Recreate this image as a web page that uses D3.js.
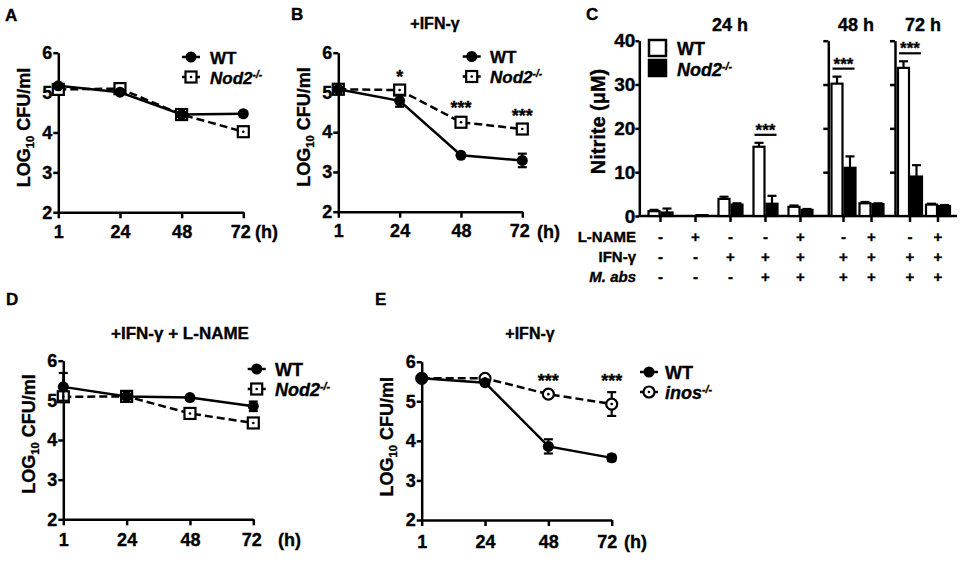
<!DOCTYPE html>
<html><head><meta charset="utf-8">
<script src="https://cdn.jsdelivr.net/npm/d3@7"></script>
<style>
body{margin:0;background:#fff}
svg text{font-family:"Liberation Sans",Arial,sans-serif;font-weight:bold;fill:#000;stroke:#000;stroke-width:0.35px}
</style>
</head><body>
<svg id="c" width="965" height="564"></svg>
<script>
// ---------- DATA ----------
const hours = ["1", "24", "48", "72"];
const cfuTicks = [2, 3, 4, 5, 6];

const A_WT = [5.17, 5.01, 4.45, 4.47];
const A_WT_err = [0.04, 0.03, 0.05, 0.03];
const A_Nod2 = [5.08, 5.10, 4.45, 4.02];
const A_Nod2_err = [0.04, 0.04, 0.06, 0.05];

const B_WT = [5.08, 4.79, 3.42, 3.29];
const B_WT_err = [0.05, 0.15, 0.04, 0.17];
const B_Nod2 = [5.08, 5.06, 4.25, 4.08];
const B_Nod2_err = [0.05, 0.05, 0.08, 0.06];
const B_stars = ["", "*", "***", "***"];

const D_WT = [5.34, 5.10, 5.07, 4.85];
const D_WT_err = [0.35, 0.05, 0.04, 0.12];
const D_Nod2 = [5.09, 5.10, 4.67, 4.43];
const D_Nod2_err = [0.05, 0.05, 0.07, 0.06];

const E_WT = [5.58, 5.47, 3.86, 3.57];
const E_WT_err = [0.05, 0.05, 0.18, 0.08];
const E_inos = [5.58, 5.58, 5.18, 4.93];
const E_inos_err = [0.03, 0.03, 0.05, 0.30];
const E_stars = ["", "", "***", "***"];

// Panel C (nitrite)
const C_segments = ["24 h", "48 h", "72 h"];
const C_groupSegment = [0, 0, 0, 0, 0, 1, 1, 2, 2];
const C_LNAME = ["-", "+", "-", "-", "+", "-", "+", "-", "+"];
const C_IFN = ["-", "-", "+", "+", "+", "+", "+", "+", "+"];
const C_Mabs = ["-", "-", "-", "+", "+", "+", "+", "+", "+"];
const C_WT = [1.1, 0, 3.9, 15.8, 2.1, 30.2, 2.9, 33.8, 2.6];
const C_WT_err = [0.3, 0, 0.5, 0.9, 0.3, 1.6, 0.3, 1.5, 0.2];
const C_Nod2 = [0.8, 0.2, 2.6, 2.8, 1.4, 11.0, 2.7, 9.0, 2.3];
const C_Nod2_err = [0.9, 0, 0.3, 1.8, 0.2, 2.6, 0.2, 2.6, 0.2];
const C_sig = ["", "", "", "***", "", "***", "", "***", ""];
const C_ticks = [0, 10, 20, 30, 40];

// ---------- DRAWING ----------
const svg = d3.select("#c");
svg.append("rect").attr("width", 965).attr("height", 564).attr("fill", "#fff");

function styleAxis(a, fs) {
  a.selectAll("path.domain").attr("stroke", "#000").attr("stroke-width", 2.5);
  a.selectAll(".tick line").attr("stroke", "#000").attr("stroke-width", 2.5);
  a.selectAll(".tick text").attr("font-size", fs).attr("fill", "#000");
}

function marker(g, type, cx, cy) {
  if (type === "circle") {
    g.append("circle").attr("cx", cx).attr("cy", cy).attr("r", 5.5).attr("fill", "#000");
  } else if (type === "square") {
    g.append("rect").attr("x", cx - 5.5).attr("y", cy - 5.5).attr("width", 11).attr("height", 11)
      .attr("fill", "#fff").attr("stroke", "#000").attr("stroke-width", 2.2);
    g.append("circle").attr("cx", cx).attr("cy", cy).attr("r", 1.3).attr("fill", "#000");
  } else {
    g.append("circle").attr("cx", cx).attr("cy", cy).attr("r", 5.5)
      .attr("fill", "#fff").attr("stroke", "#000").attr("stroke-width", 2.2);
    g.append("circle").attr("cx", cx).attr("cy", cy).attr("r", 1.3).attr("fill", "#000");
  }
}

function labelWithSup(g, x, y, base, italic, fs) {
  const t = g.append("text").attr("x", x).attr("y", y).attr("font-size", fs);
  t.append("tspan").text(base).attr("font-style", italic ? "italic" : "normal");
  if (italic) t.append("tspan").text("-/-").attr("font-size", fs * 0.6).attr("dy", -6).attr("font-style", "italic");
  return t;
}

function legendItem(g, mx, my, type, dashed, label, italic, tx, fs) {
  g.append("line").attr("x1", mx - 9).attr("x2", mx + 9).attr("y1", my).attr("y2", my)
    .attr("stroke", "#000").attr("stroke-width", 2.5).attr("stroke-dasharray", dashed ? "4,3" : null);
  marker(g, type, mx, my);
  labelWithSup(g, tx, my + 6.5, label, italic, fs);
}

function yTitle(g, cx, cy, fs) {
  const t = g.append("text").attr("transform", `translate(${cx + 6.5},${cy}) rotate(-90)`)
    .attr("text-anchor", "middle").attr("font-size", fs);
  t.append("tspan").text("LOG");
  t.append("tspan").text("10").attr("font-size", fs * 0.62).attr("dy", 4);
  t.append("tspan").text(" CFU/ml").attr("dy", -4);
}

function linePanel(o) {
  const g = svg.append("g");
  const x = d3.scalePoint().domain(hours).range([o.x0, o.x1]);
  const y = d3.scaleLinear().domain([2, 6]).range([o.yb, o.yt]);
  const ya = g.append("g").attr("transform", `translate(${o.x0},0)`)
    .call(d3.axisLeft(y).tickValues(cfuTicks).tickFormat(d3.format("d")).tickSize(5).tickSizeOuter(0).tickPadding(1));
  styleAxis(ya, 18);
  const xa = g.append("g").attr("transform", `translate(0,${o.yb})`)
    .call(d3.axisBottom(x).tickSize(6).tickSizeOuter(0).tickPadding(o.xpad));
  styleAxis(xa, 18);
  xa.selectAll(".tick text").filter(d => d === hours[hours.length - 1]).attr("dx", o.lastDx);
  g.append("text").attr("x", o.hx).attr("y", o.yb + o.xpad + 6 + 13).attr("font-size", 18).text("(h)");
  yTitle(g, o.ylx, o.yly, 18);

  const line = d3.line().x((d, i) => x(hours[i])).y(d => y(d));
  o.series.forEach(s => {
    g.append("path").datum(s.vals).attr("d", line).attr("fill", "none")
      .attr("stroke", "#000").attr("stroke-width", 2.5).attr("stroke-dasharray", s.dashed ? "8,4" : null);
  });
  o.series.forEach(s => {
    s.vals.forEach((v, i) => {
      const cx = x(hours[i]), e = s.err[i];
      g.append("line").attr("x1", cx).attr("x2", cx).attr("y1", y(v - e)).attr("y2", y(v + e))
        .attr("stroke", "#000").attr("stroke-width", 2.2);
      [v - e, v + e].forEach(w => g.append("line").attr("x1", cx - 4.5).attr("x2", cx + 4.5)
        .attr("y1", y(w)).attr("y2", y(w)).attr("stroke", "#000").attr("stroke-width", 2.2));
    });
    s.vals.forEach((v, i) => marker(g, s.type, x(hours[i]), y(v)));
  });
  if (o.stars) {
    o.stars.forEach((st, i) => {
      if (!st) return;
      const top = d3.max(o.series, s => s.vals[i] + s.err[i]);
      g.append("text").attr("x", x(hours[i])).attr("y", y(top) - 5).attr("text-anchor", "middle")
        .attr("font-size", 18).text(st);
    });
  }
  o.legend.forEach((l, k) => legendItem(g, o.lmx, o.lmy[k], l.type, l.dashed, l.label, l.italic, o.ltx, o.lfs));
  return g;
}

// Panel letters
[["A", 5, 21], ["B", 291, 20], ["C", 586, 20], ["D", 6, 305], ["E", 375, 305]].forEach(d =>
  svg.append("text").attr("x", d[1]).attr("y", d[2]).attr("font-size", 17).text(d[0]));

const nodLegend = [
  { type: "circle", dashed: false, label: "WT", italic: false },
  { type: "square", dashed: true, label: "Nod2", italic: true }
];

// A
linePanel({
  x0: 58.3, x1: 243.3, yt: 52.7, yb: 212.3, xpad: 7, hx: 255, lastDx: -3, ylx: 23, yly: 127.5,
  series: [
    { vals: A_Nod2, err: A_Nod2_err, type: "square", dashed: true },
    { vals: A_WT, err: A_WT_err, type: "circle", dashed: false }
  ],
  legend: nodLegend, lmx: 191, lmy: [57, 77], ltx: 210, lfs: 17
});

// B
linePanel({
  x0: 338.3, x1: 522.3, yt: 52.7, yb: 211.7, xpad: 7, hx: 537, lastDx: -3, ylx: 303, yly: 127,
  series: [
    { vals: B_Nod2, err: B_Nod2_err, type: "square", dashed: true },
    { vals: B_WT, err: B_WT_err, type: "circle", dashed: false }
  ],
  stars: B_stars,
  legend: nodLegend, lmx: 471.7, lmy: [56.5, 76.5], ltx: 490, lfs: 17
});
svg.append("text").attr("x", 435).attr("y", 29).attr("text-anchor", "middle").attr("font-size", 16).text("+IFN-γ");

// D
linePanel({
  x0: 63.3, x1: 253.3, yt: 360.7, yb: 519.3, xpad: 8, hx: 278, lastDx: -2, ylx: 28, yly: 434,
  series: [
    { vals: D_Nod2, err: D_Nod2_err, type: "square", dashed: true },
    { vals: D_WT, err: D_WT_err, type: "circle", dashed: false }
  ],
  legend: nodLegend, lmx: 256.7, lmy: [369, 389], ltx: 275, lfs: 18
});
svg.append("text").attr("x", 180).attr("y", 339).attr("text-anchor", "middle").attr("font-size", 17).text("+IFN-γ + L-NAME");

// E
linePanel({
  x0: 421.7, x1: 611.7, yt: 361.7, yb: 520, xpad: 9, hx: 624, lastDx: -5, ylx: 386, yly: 436.7,
  series: [
    { vals: E_inos, err: E_inos_err, type: "ocircle", dashed: true },
    { vals: E_WT, err: E_WT_err, type: "circle", dashed: false }
  ],
  stars: E_stars,
  legend: [
    { type: "circle", dashed: false, label: "WT", italic: false },
    { type: "ocircle", dashed: true, label: "inos", italic: true }
  ],
  lmx: 649, lmy: [372, 392], ltx: 665, lfs: 18
});
svg.append("text").attr("x", 530).attr("y", 339).attr("text-anchor", "middle").attr("font-size", 16).text("+IFN-γ");

// ---------- Panel C ----------
(function () {
  const g = svg.append("g");
  const yC = d3.scaleLinear().domain([0, 40]).range([216, 40.7]);
  const segRanges = [[643, 818], [829.5, 885.5], [896, 952]];
  const segAxisX = [639.3, 828.3, 895];
  const segScales = segRanges.map((r, s) => {
    const ids = d3.range(C_groupSegment.length).filter(i => C_groupSegment[i] === s);
    return d3.scalePoint().domain(ids).range(r).padding(0.5);
  });
  const gx = i => segScales[C_groupSegment[i]](i);

  const ya = g.append("g").attr("transform", `translate(${segAxisX[0]},0)`)
    .call(d3.axisLeft(yC).tickValues(C_ticks).tickSize(4).tickSizeOuter(0).tickPadding(0));
  styleAxis(ya, 19);
  [1, 2].forEach(s => {
    const a = g.append("g").attr("transform", `translate(${segAxisX[s]},0)`)
      .call(d3.axisLeft(yC).tickValues(C_ticks.slice(1)).tickFormat("").tickSize(5).tickSizeOuter(0));
    styleAxis(a, 19);
  });
  g.append("line").attr("x1", segAxisX[0]).attr("x2", 957).attr("y1", yC(0)).attr("y2", yC(0))
    .attr("stroke", "#000").attr("stroke-width", 2.5);
  C_WT.forEach((_, i) => g.append("line").attr("x1", gx(i)).attr("x2", gx(i))
    .attr("y1", yC(0)).attr("y2", yC(0) + 6).attr("stroke", "#000").attr("stroke-width", 2.5));

  const bw = 11;
  function bar(i, v, e, fill, dx) {
    const x = gx(i) + dx;
    if (v > 0) {
      if (e > 0) {
        g.append("line").attr("x1", x + bw / 2).attr("x2", x + bw / 2).attr("y1", yC(v)).attr("y2", yC(v + e))
          .attr("stroke", "#000").attr("stroke-width", 2.2);
        g.append("line").attr("x1", x + bw / 2 - 4.5).attr("x2", x + bw / 2 + 4.5).attr("y1", yC(v + e)).attr("y2", yC(v + e))
          .attr("stroke", "#000").attr("stroke-width", 2.2);
      }
      g.append("rect").attr("x", x).attr("y", yC(v)).attr("width", bw).attr("height", yC(0) - yC(v))
        .attr("fill", fill).attr("stroke", "#000").attr("stroke-width", 2.2);
    }
  }
  C_WT.forEach((v, i) => bar(i, v, C_WT_err[i], "#fff", -12));
  C_Nod2.forEach((v, i) => bar(i, v, C_Nod2_err[i], "#000", 1));

  C_sig.forEach((s, i) => {
    if (!s) return;
    const top = Math.max(C_WT[i] + C_WT_err[i], C_Nod2[i] + C_Nod2_err[i]);
    const ly = yC(top) - 8;
    g.append("line").attr("x1", gx(i) - 11).attr("x2", gx(i) + 11).attr("y1", ly).attr("y2", ly)
      .attr("stroke", "#000").attr("stroke-width", 2.2);
    g.append("text").attr("x", gx(i)).attr("y", ly + 1).attr("text-anchor", "middle").attr("font-size", 17).text(s);
  });

  const titleX = [730, 856, 923];
  C_segments.forEach((t, s) => g.append("text").attr("x", titleX[s]).attr("y", 31)
    .attr("text-anchor", "middle").attr("font-size", 18).text(t));

  g.append("text").attr("transform", "translate(605,121.5) rotate(-90)").attr("text-anchor", "middle")
    .attr("font-size", 20).text("Nitrite (μM)");

  g.append("rect").attr("x", 649).attr("y", 40).attr("width", 17).attr("height", 16)
    .attr("fill", "#fff").attr("stroke", "#000").attr("stroke-width", 2.5);
  g.append("rect").attr("x", 649).attr("y", 60).attr("width", 17).attr("height", 16)
    .attr("fill", "#000").attr("stroke", "#000").attr("stroke-width", 2.5);
  labelWithSup(g, 677, 55, "WT", false, 18);
  labelWithSup(g, 677, 76, "Nod2", true, 18);

  const rows = [["L-NAME", C_LNAME, 241.7, false], ["IFN-γ", C_IFN, 261.7, false], ["M. abs", C_Mabs, 281.7, true]];
  rows.forEach(r => {
    g.append("text").attr("x", 636).attr("y", r[2]).attr("text-anchor", "end").attr("font-size", 15)
      .attr("font-style", r[3] ? "italic" : "normal").text(r[0]);
    r[1].forEach((s, i) => g.append("text").attr("x", gx(i)).attr("y", r[2]).attr("text-anchor", "middle")
      .attr("font-size", 15).text(s));
  });
})();
</script>
</body></html>
